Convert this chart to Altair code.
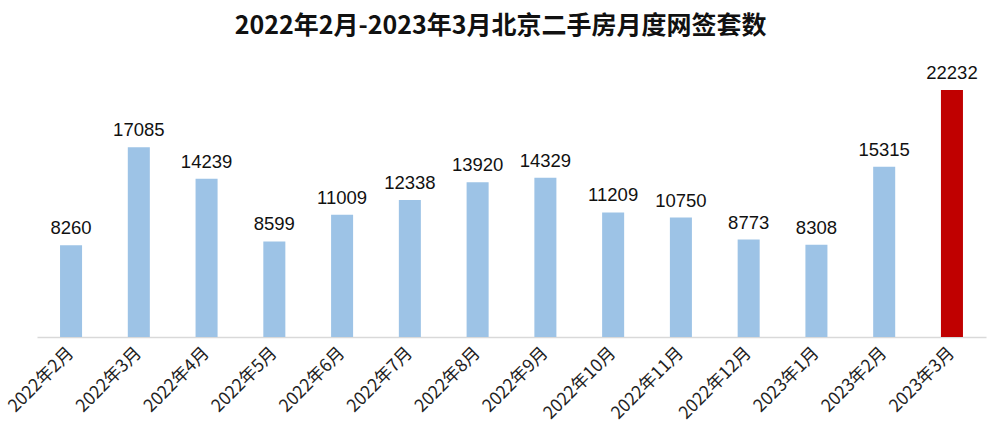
import altair as alt
import pandas as pd

months = ["2022年2月", "2022年3月", "2022年4月", "2022年5月", "2022年6月", "2022年7月",
          "2022年8月", "2022年9月", "2022年10月", "2022年11月", "2022年12月",
          "2023年1月", "2023年2月", "2023年3月"]
counts = [8260, 17085, 14239, 8599, 11009, 12338, 13920, 14329, 11209, 10750, 8773, 8308, 15315, 22232]
highlight = [False] * 13 + [True]

df = pd.DataFrame({"month": months, "count": counts, "hl": highlight})

FONT = "Noto Sans CJK SC"

x = alt.X("month:N", sort=months, title=None,
          scale=alt.Scale(paddingInner=0.675, paddingOuter=0.34),
          axis=alt.Axis(labelAngle=-45, labelAlign="right", labelBaseline="middle",
                        labelFontSize=17.5, labelColor="#222222", labelFont=FONT,
                        labelPadding=13, ticks=False, domainColor="#D9D9D9",
                        domainWidth=1.5, grid=False))
y = alt.Y("count:Q", scale=alt.Scale(domain=[0, 27000], nice=False), axis=None)

bars = alt.Chart(df).mark_bar().encode(
    x=x, y=y,
    color=alt.Color("hl:N", scale=alt.Scale(domain=[False, True], range=["#9DC3E6", "#C00000"]), legend=None),
)
labels = alt.Chart(df).mark_text(dy=-17, fontSize=18.5, font="Liberation Sans", color="#111111").encode(
    x=alt.X("month:N", sort=months), y=y, text="count:Q"
)

chart = (bars + labels).properties(
    width=949, height=300,
    padding={"left": 37, "top": 37, "right": 14, "bottom": 101},
    autosize=alt.AutoSizeParams(type="none"),
    title=alt.Title("2022年2月-2023年3月北京二手房月度网签套数", fontSize=25, font=FONT,
                    fontWeight="bold", color="#111111", anchor="middle", dx=-11, offset=-2),
).configure_view(stroke=None)

chart.save("out.html", embed_options={"renderer": "svg", "actions": False})
